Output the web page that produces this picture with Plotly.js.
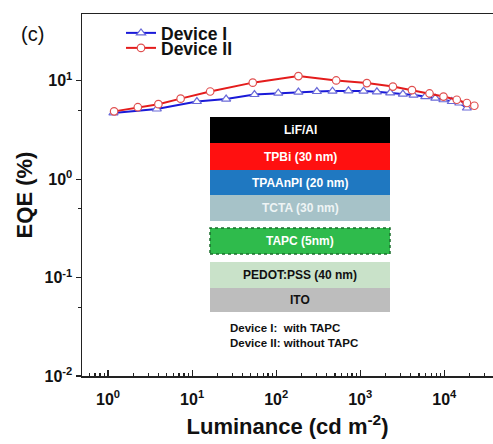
<!DOCTYPE html>
<html><head><meta charset="utf-8">
<script src="https://cdn.plot.ly/plotly-3.0.1.min.js"></script>
<style>html,body{margin:0;padding:0;background:#fff}#c{width:493px;height:444px}</style>
</head><body><div id="c"></div>
<script>
var lumI = [1.16, 3.8, 11.4, 25.4, 55.2, 106, 184, 305, 468, 725, 1095, 1580, 2275, 3220, 4310, 5940, 7820, 9780, 12300, 15100, 18600];
var eqeI = [4.72, 5.18, 6.17, 6.53, 7.27, 7.5, 7.7, 7.8, 7.87, 7.93, 7.87, 7.74, 7.57, 7.34, 7.18, 6.93, 6.68, 6.43, 6.17, 5.96, 5.3];
var lumII = [1.18, 2.26, 3.97, 7.3, 16.4, 52.7, 184, 518, 1200, 2450, 4130, 6680, 9800, 14100, 18600, 22800];
var eqeII = [4.9, 5.4, 5.8, 6.6, 7.8, 9.6, 11.2, 10.1, 9.5, 8.75, 8.05, 7.45, 6.93, 6.43, 5.96, 5.59];
var xTickVals = [1, 10, 100, 1000, 10000];
var xTickText = ['10<sup>0</sup>', '10<sup>1</sup>', '10<sup>2</sup>', '10<sup>3</sup>', '10<sup>4</sup>'];
var yTickVals = [0.01, 0.1, 1, 10];
var yTickText = ['10<sup>-2</sup>', '10<sup>-1</sup>', '10<sup>0</sup>', '10<sup>1</sup>'];
var layerNames = ['LiF/Al', 'TPBi (30 nm)', 'TPAAnPI (20 nm)', 'TCTA (30 nm)', 'TAPC (5nm)', 'PEDOT:PSS (40 nm)', 'ITO'];
var layerFill = ['#000000', '#ff1010', '#1f78c1', '#a6c2c8', '#2fbb4c', '#c9e2c9', '#bdbdbd'];
var layerText = ['#ffffff', '#ffffff', '#ffffff', '#eef4f5', '#ffffff', '#111111', '#111111'];
var layerTop = [117, 143, 170, 195, 228, 262, 288];
var layerBot = [143, 170, 195, 221, 254, 288, 312];

var L = 82, T = 14, W = 411, H = 362;
function px(x){ return (x - L) / W; }
function py(y){ return (T + H - y) / H; }

var FF = 'Arial, Liberation Sans, sans-serif';
var traces = [
  {x: lumI, y: eqeI, name: 'Device I', mode: 'lines+markers', type: 'scatter', legend: 'legend',
   line: {color: '#1a1ad8', width: 2},
   marker: {symbol: 'triangle-up', size: 8, color: '#ffffff', line: {color: '#6a6ad8', width: 1.2}}},
  {x: lumII, y: eqeII, name: 'Device II', mode: 'lines+markers', type: 'scatter', legend: 'legend2',
   line: {color: '#e41c1c', width: 2},
   marker: {symbol: 'circle', size: 7.5, color: '#ffffff', line: {color: '#e05050', width: 1.2}}}
];
var shapes = [], ann = [];
for (var i = 0; i < layerNames.length; i++) {
  var dotted = layerNames[i].indexOf('TAPC') === 0;
  shapes.push({type: 'rect', xref: 'paper', yref: 'paper', x0: px(210), x1: px(390), y0: py(layerBot[i]), y1: py(layerTop[i]),
    fillcolor: layerFill[i], line: dotted ? {color: '#1b6e2c', width: 1.5, dash: 'dot'} : {width: 0}, layer: 'above'});
  ann.push({xref: 'paper', yref: 'paper', x: px(300), y: py((layerTop[i] + layerBot[i]) / 2), text: layerNames[i], showarrow: false,
    font: {family: FF, size: 12, color: layerText[i], weight: 'bold'}, xanchor: 'center', yanchor: 'middle'});
}
ann.push({xref: 'paper', yref: 'paper', x: px(228), y: py(328), text: 'Device I:  with TAPC', showarrow: false, xanchor: 'left', yanchor: 'middle',
  font: {family: FF, size: 11.5, color: '#111', weight: 'bold'}});
ann.push({xref: 'paper', yref: 'paper', x: px(228), y: py(343), text: 'Device II: without TAPC', showarrow: false, xanchor: 'left', yanchor: 'middle',
  font: {family: FF, size: 11.5, color: '#111', weight: 'bold'}});
ann.push({xref: 'paper', yref: 'paper', x: px(19), y: py(34), text: '(c)', showarrow: false, xanchor: 'left', yanchor: 'middle',
  font: {family: FF, size: 20, color: '#111'}});

var legFont = {family: FF, size: 17.5, color: '#111', weight: 'bold'};
var layout = {
  width: 493, height: 444,
  margin: {l: L, r: 0, t: T, b: 444 - T - H},
  paper_bgcolor: '#fff', plot_bgcolor: '#fff',
  showlegend: true,
  legend: {x: px(121), y: py(33), xanchor: 'left', yanchor: 'middle', bgcolor: 'rgba(0,0,0,0)', font: legFont, itemwidth: 30},
  legend2: {x: px(121), y: py(48), xanchor: 'left', yanchor: 'middle', bgcolor: 'rgba(0,0,0,0)', font: legFont, itemwidth: 30},
  xaxis: {type: 'log', range: [-0.31, 4.58], tickmode: 'array', tickvals: xTickVals, ticktext: xTickText,
    ticks: 'inside', ticklen: 6, tickwidth: 1.2, tickcolor: '#222', showgrid: false, zeroline: false,
    showline: true, linecolor: '#222', linewidth: 1.5, mirror: true, ticklabelstandoff: 8,
    minor: {dtick: 'D1', ticks: 'inside', ticklen: 3, tickcolor: '#222'},
    tickfont: {family: FF, size: 16, color: '#111', weight: 'bold'},
    title: {text: 'Luminance (cd m<sup>-2</sup>)', font: {family: FF, size: 22, color: '#111', weight: 'bold'}, standoff: 12}},
  yaxis: {type: 'log', range: [-2, 1.68], tickmode: 'array', tickvals: yTickVals, ticktext: yTickText,
    ticks: 'outside', ticklen: 5, tickwidth: 1.2, tickcolor: '#222', showgrid: false, zeroline: false,
    showline: true, linecolor: '#222', linewidth: 1.5, mirror: true,
    minor: {tickmode: 'array', tickvals: [0.05, 0.5, 5], ticks: 'outside', ticklen: 3, tickcolor: '#222'},
    tickfont: {family: FF, size: 16, color: '#111', weight: 'bold'},
    title: {text: 'EQE (%)', font: {family: FF, size: 22, color: '#111', weight: 'bold'}, standoff: 6}},
  shapes: shapes, annotations: ann
};
Plotly.newPlot('c', traces, layout, {displayModeBar: false, staticPlot: true});
</script></body></html>
